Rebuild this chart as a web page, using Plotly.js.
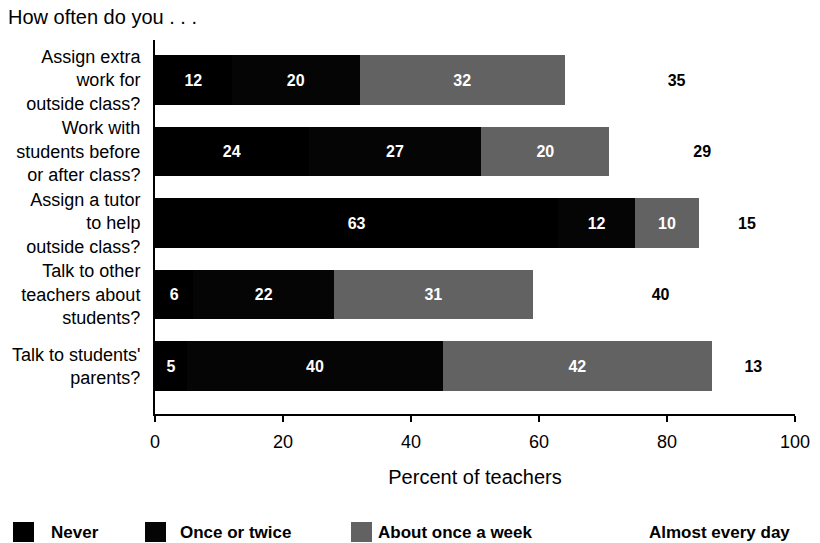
<!DOCTYPE html>
<html>
<head>
<meta charset="utf-8">
<script src="https://cdn.plot.ly/plotly-3.0.1.min.js"></script>
<style>
  html, body { margin: 0; padding: 0; background: #fff; }
  #chart { width: 820px; height: 543px; }
</style>
</head>
<body>
<div id="chart"></div>
<script>
// ---- data ----
const questions = [
  "Assign extra<br>work for<br>outside class?",
  "Work with<br>students before<br>or after class?",
  "Assign a tutor<br>to help<br>outside class?",
  "Talk to other<br>teachers about<br>students?",
  "Talk to students'<br>parents?"
];
const seriesNames = ["Never", "Once or twice", "About once a week", "Almost every day"];
const never        = [12, 24, 63, 6, 5];
const onceOrTwice  = [20, 27, 12, 22, 40];
const onceAWeek    = [32, 20, 10, 31, 42];
const almostDaily  = [35, 29, 15, 40, 13];
const xTicks = [0, 20, 40, 60, 80, 100];

// ---- styles ----
const FONT = "Liberation Sans, Arial, Helvetica, sans-serif";
const fills = ["#000000", "#050505", "#626262", "#ffffff"];
const labelColors = ["#ffffff", "#ffffff", "#ffffff", "#000000"];
const values = [never, onceOrTwice, onceAWeek, almostDaily];
const catIdx = questions.map((_, i) => i);

const traces = values.map((vals, k) => ({
  type: "bar",
  orientation: "h",
  name: seriesNames[k],
  x: vals,
  y: catIdx,
  width: 0.69,
  marker: { color: fills[k], line: { width: 0 } },
  text: vals.map(String),
  texttemplate: "%{text}",
  textposition: "inside",
  insidetextanchor: "middle",
  textangle: 0,
  constraintext: "none",
  textfont: { family: FONT, size: 16, color: labelColors[k], weight: "bold" },
  hoverinfo: "skip",
  showlegend: false
}));

// manual legend (swatches + labels) placed in paper space below the axis
const legendSwatchX = [13, 145, 351, null];
const legendTextX = [50, 179, 377, 648];
const W = 820, H = 543;
const mL = 155, mR = 25, mT = 40, mB = 129;
const pw = W - mL - mR, ph = H - mT - mB;
const px2x = p => (p - mL) / pw;
const py2y = p => (H - mB - p) / ph;

const shapes = [];
const annotations = [];
seriesNames.forEach((nm, k) => {
  if (legendSwatchX[k] !== null) {
    shapes.push({
      type: "rect", xref: "paper", yref: "paper",
      x0: px2x(legendSwatchX[k]), x1: px2x(legendSwatchX[k] + 21),
      y0: py2y(542), y1: py2y(522),
      fillcolor: fills[k], line: { width: 0 }
    });
  }
  annotations.push({
    xref: "paper", yref: "paper",
    x: px2x(legendTextX[k] - 1), y: py2y(532),
    xanchor: "left", yanchor: "middle",
    text: "<b>" + nm + "</b>", showarrow: false,
    font: { family: FONT, size: 17, color: "#000" }
  });
});

const layout = {
  width: W, height: H,
  margin: { l: mL, r: mR, t: mT, b: mB, pad: 0 },
  paper_bgcolor: "#fff", plot_bgcolor: "#fff",
  barmode: "stack",
  showlegend: false,
  title: {
    text: "How often do you . . .",
    x: 8 / W, xref: "container", xanchor: "left",
    y: 1 - 17 / H, yref: "container", yanchor: "middle",
    font: { family: FONT, size: 20, color: "#000" }
  },
  xaxis: {
    range: [0, 100],
    tickvals: xTicks,
    ticktext: xTicks.map(String),
    ticks: "outside", ticklen: 6, tickwidth: 1.5, tickcolor: "#000",
    showline: true, linecolor: "#000", linewidth: 2,
    showgrid: false, zeroline: false,
    tickfont: { family: FONT, size: 18, color: "#000" },
    ticklabelstandoff: 4,
    title: { text: "Percent of teachers", standoff: 19,
             font: { family: FONT, size: 20, color: "#000" } },
    fixedrange: true
  },
  yaxis: {
    range: [4.67, -0.56],
    tickvals: catIdx,
    ticktext: questions,
    ticks: "", showline: true, linecolor: "#000", linewidth: 2,
    showgrid: false, zeroline: false,
    tickfont: { family: FONT, size: 18, color: "#000" },
    ticklabelstandoff: 9,
    fixedrange: true
  },
  shapes: shapes,
  annotations: annotations
};

Plotly.newPlot("chart", traces, layout, { staticPlot: true, displayModeBar: false });
</script>
</body>
</html>
